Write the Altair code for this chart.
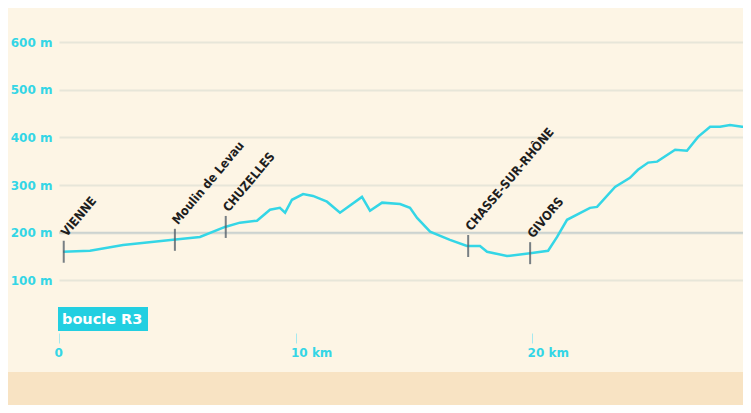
import altair as alt
import pandas as pd

# elevation profile (km, metres)
km = [0.17, 1.31, 2.71, 4.82, 5.96, 7.02, 7.65, 8.37, 8.92, 9.34, 9.56, 9.85, 10.32, 10.74,
      11.33, 11.88, 12.81, 13.15, 13.66, 14.42, 14.84, 15.14, 15.69, 16.53, 17.25, 17.80,
      18.10, 18.94, 19.92, 20.68, 21.06, 21.48, 22.45, 22.75, 23.51, 24.14, 24.48, 24.91,
      25.29, 26.05, 26.55, 27.02, 27.53, 27.95, 28.37, 28.88, 29.26]
alt_m = [160, 162, 174, 185, 191, 212, 221, 225, 248, 252, 242, 269, 281, 277,
         265, 242, 275, 246, 263, 260, 252, 231, 202, 185, 172, 172,
         160, 151, 157, 162, 191, 227, 252, 254, 296, 315, 332, 347,
         349, 374, 372, 401, 422, 422, 426, 422, 422]

# places along the route
place_names = ["VIENNE", "Moulin de Levau", "CHUZELLES", "CHASSE-SUR-RHÔNE", "GIVORS"]
place_km = [0.2, 4.9, 7.05, 17.3, 19.92]
place_alt = [160, 185, 212, 172, 157]

y_ticks = [100, 200, 300, 400, 500, 600]
x_ticks = [0, 10, 20]
badge_text = "boucle R3"

CYAN = "#34d6e6"
W, H = 684, 286

profile = pd.DataFrame({"km": km, "alt": alt_m})
places = pd.DataFrame({"name": place_names, "km": place_km, "alt": place_alt})

xs = alt.Scale(domain=[0, 28.92], nice=False)
ys = alt.Scale(domain=[0, 600], nice=False)

xaxis = alt.Axis(values=x_ticks, labelExpr="datum.value == 0 ? '0' : datum.value + ' km'",
                 domain=False, grid=False, offset=5, tickSize=10, tickColor="#a6e9ef",
                 tickWidth=1, labelPadding=4, labelAlign="left", labelOffset=-5,
                 labelColor=CYAN, labelFont="DejaVu Sans", labelFontWeight="bold",
                 labelFontSize=12, title=None)
yaxis = alt.Axis(values=y_ticks, labelExpr="datum.value + ' m'", domain=False, ticks=False,
                 grid=True, gridColor="#e7e6d9", gridWidth=2, labelPadding=7,
                 labelColor=CYAN, labelFont="DejaVu Sans", labelFontWeight="bold",
                 labelFontSize=12, title=None)

band = alt.Chart(pd.DataFrame({"a": [0]})).mark_rect(color="#f8e3c3").encode(
    x=alt.value(-51), x2=alt.value(W), y=alt.value(330), y2=alt.value(H + 80))

line = alt.Chart(profile).mark_line(color=CYAN, strokeWidth=2.5, clip=True).encode(
    x=alt.X("km:Q", scale=xs, axis=xaxis),
    y=alt.Y("alt:Q", scale=ys, axis=yaxis))

ref200 = alt.Chart(pd.DataFrame({"v": [200]})).mark_rule(color="#ccd3d0", strokeWidth=2).encode(
    y=alt.Y("v:Q", scale=ys))

ticks = alt.Chart(places).mark_tick(orient="vertical", size=22, thickness=2,
                                     color="#56616b", opacity=0.8).encode(
    x=alt.X("km:Q", scale=xs), y=alt.Y("alt:Q", scale=ys))

labels = alt.Chart(places).mark_text(angle=310, align="left", baseline="middle",
                                      dx=13, dy=-11, font="DejaVu Sans Condensed",
                                      fontWeight="bold", fontSize=12.5,
                                      color="#1e1e1e").encode(
    x=alt.X("km:Q", scale=xs), y=alt.Y("alt:Q", scale=ys), text="name:N")

badge = alt.Chart(pd.DataFrame({"t": [badge_text]})).mark_rect(color="#22cfe1").encode(
    x=alt.value(-1), x2=alt.value(89), y=alt.value(265), y2=alt.value(289))
badge_txt = alt.Chart(pd.DataFrame({"t": [badge_text]})).mark_text(
    align="left", baseline="middle", color="white", font="DejaVu Sans",
    fontWeight="bold", fontSize=14.5).encode(x=alt.value(3), y=alt.value(278), text="t:N")

chart = alt.layer(band, ref200, line, ticks, labels, badge, badge_txt).properties(
    width=W, height=H,
    autosize=alt.AutoSizeParams(type="none"),
    padding={"left": 51, "top": 34, "right": 0, "bottom": 77},
    background="#fdf5e5",
).configure_view(stroke=None)

chart.save("out.html", embed_options={"renderer": "svg", "actions": False})
